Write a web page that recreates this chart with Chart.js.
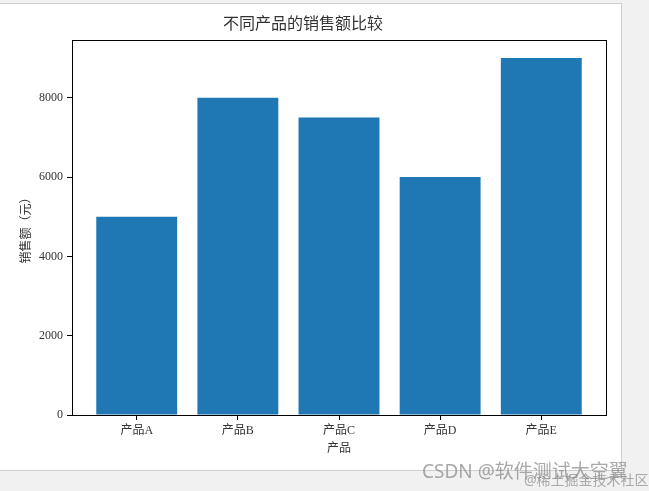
<!DOCTYPE html>
<html>
<head>
<meta charset="utf-8">
<script src="https://cdn.jsdelivr.net/npm/chart.js@4/dist/chart.umd.min.js"></script>
<style>
  html, body { margin: 0; padding: 0; background: #f1f1f1; }
  #wrap { position: relative; width: 649px; height: 491px; overflow: hidden; }
  #panel {
    position: absolute; left: 0; top: 3px; width: 621px; height: 466px;
    background: #fff; border: 1px solid #cfcfcf; border-left: none;
  }
  #chart { position: absolute; left: 0; top: 0; }
  .wm { position: absolute; white-space: nowrap; font-family: 'Noto Sans', 'Noto Sans CJK SC', sans-serif; }
  #wm1 { left: 422px; top: 456px; font-size: 19px; color: rgba(140,140,140,0.75); }
  #wm2 { left: 524px; top: 469px; font-size: 14px; color: rgba(110,110,110,0.55); }
</style>
</head>
<body>
<div id="wrap">
  <div id="panel"></div>
  <canvas id="chart" width="649" height="491"></canvas>
  <div class="wm" id="wm2">@稀土掘金技术社区</div>
  <div class="wm" id="wm1">CSDN @软件测试大空翼</div>
</div>
<script>
// Data
const products = ['产品A', '产品B', '产品C', '产品D', '产品E'];
const sales = [5000, 8000, 7500, 6000, 9000];
const yTicks = [0, 2000, 4000, 6000, 8000];

const FONT = "'Liberation Serif', 'Noto Sans CJK SC', serif";
const TEXT = '#333';

// Frame around the plot area
const frame = {
    id: 'frame',
    afterDatasetsDraw: (chart) => {
        const a = chart.chartArea;
        const ctx = chart.ctx;
        ctx.save();
        ctx.strokeStyle = '#000';
        ctx.lineWidth = 1;
        ctx.strokeRect(Math.round(a.left) + 0.5, Math.round(a.top) + 0.5,
            Math.round(a.right - a.left), Math.round(a.bottom - a.top));
        ctx.restore();
    }
};

new Chart(document.getElementById('chart'), {
    type: 'bar',
    data: {
        datasets: [{
            label: '销售额',
            data: sales.map((v, i) => ({ x: i, y: v })),
            backgroundColor: '#1f77b4',
            borderColor: '#1f77b4',
            borderWidth: 0,
            barPercentage: 0.8,
            categoryPercentage: 1
        }]
    },
    options: {
        responsive: false,
        animation: false,
        devicePixelRatio: 1,
        layout: { padding: { left: 0, right: 43, top: 0, bottom: 0 } },
        plugins: {
            legend: { display: false },
            tooltip: { enabled: false },
            title: {
                display: true,
                text: '不同产品的销售额比较',
                color: TEXT,
                font: { family: FONT, size: 16, weight: 'normal' },
                padding: { top: 15, bottom: 6 }
            }
        },
        scales: {
            x: {
                type: 'linear',
                min: -0.64,
                max: 4.64,
                offset: false,
                afterBuildTicks: (scale) => {
                    scale.ticks = products.map((p, i) => ({ value: i }));
                },
                afterFit: (scale) => { scale.height = 76; },
                grid: { offset: false, drawOnChartArea: false, drawTicks: true, tickLength: 5, color: '#000' },
                border: { display: false },
                ticks: {
                    color: TEXT,
                    font: { family: FONT, size: 12 },
                    padding: 4,
                    maxRotation: 0,
                    callback: (v) => products[v]
                },
                title: {
                    display: true,
                    text: '产品',
                    color: TEXT,
                    font: { family: FONT, size: 12 },
                    padding: { top: 4, bottom: 35 }
                }
            },
            y: {
                min: 0,
                max: 9450,
                afterBuildTicks: (scale) => {
                    scale.ticks = yTicks.map(v => ({ value: v }));
                },
                afterFit: (scale) => { scale.width = 72; },
                grid: { drawOnChartArea: false, drawTicks: true, tickLength: 5, color: '#000' },
                border: { display: false },
                ticks: {
                    color: TEXT,
                    font: { family: FONT, size: 12 },
                    padding: 4,
                    callback: (v) => String(v)
                },
                title: {
                    display: true,
                    text: '销售额（元）',
                    color: TEXT,
                    font: { family: FONT, size: 12 },
                    padding: { top: 20, bottom: 0 }
                }
            }
        }
    },
    plugins: [frame]
});
</script>
</body>
</html>
